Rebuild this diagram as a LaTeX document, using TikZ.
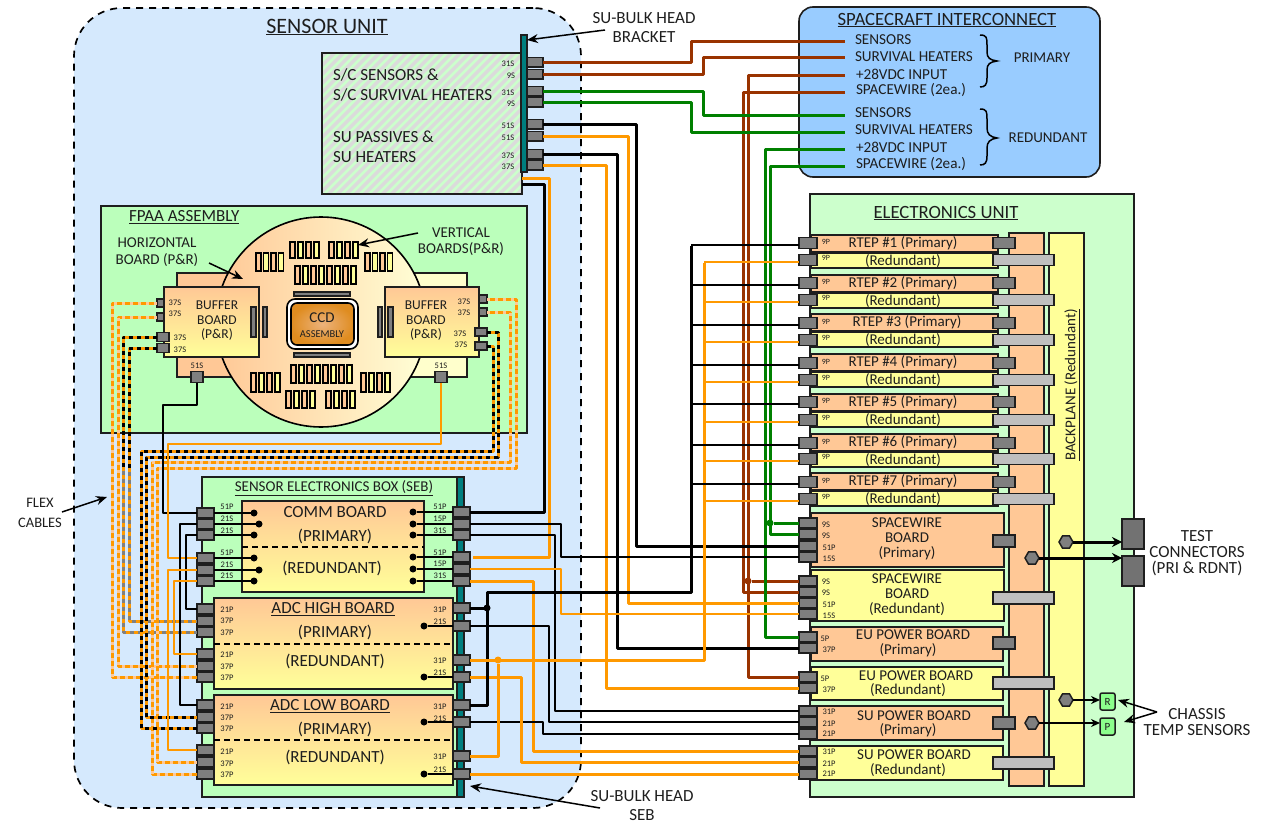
\documentclass[tikz,border=0pt]{standalone}
\usepackage{fontspec}
\setmainfont{Carlito}
\usetikzlibrary{shapes.geometric,arrows.meta,calc}
\definecolor{cOr}{HTML}{FF9900}
\definecolor{cPeach}{HTML}{FFC896}
\definecolor{cYel}{HTML}{FFFF99}
\definecolor{cBrown}{HTML}{993300}
\definecolor{cGreen}{HTML}{008000}
\definecolor{cTeal}{HTML}{007F7F}
\definecolor{cBlue}{HTML}{D5E9FD}
\definecolor{cSky}{HTML}{99CCFF}
\definecolor{cMint}{HTML}{BBFFBB}
\definecolor{cEU}{HTML}{CCFFCC}
\definecolor{cPlug}{HTML}{7F7F7F}
\definecolor{cLite}{HTML}{BFBFBF}
\definecolor{cInk}{HTML}{1E1E1E}
\newcommand{\fs}[1]{\fontsize{#1}{#1}\selectfont}
\tikzset{
  every node/.style={text=cInk,inner sep=0pt,outer sep=0pt,align=center},
  box/.style={draw=cInk,line width=1.6pt,outer sep=0pt},
  plug/.style={draw=cInk,fill=cPlug,line width=1.5pt},
  plugl/.style={draw=cInk,fill=cLite,line width=1.5pt},
  wk/.style={draw=black,line width=3pt,line join=round},
  wkm/.style={draw=black,line width=2.3pt,line join=round},
  wkt/.style={draw=black,line width=1.7pt,line join=round},
  wo/.style={draw=cOr,line width=3pt,line join=round},
  wom/.style={draw=cOr,line width=3pt,line join=round},
  wot/.style={draw=cOr,line width=2pt,line join=round},
  wb/.style={draw=cBrown,line width=3pt,line join=round},
  wg/.style={draw=cGreen,line width=3pt,line join=round},
  flexk/.style={draw=cOr,line width=3pt,line join=round,postaction={draw=black,line width=3pt,dash pattern=on 4pt off 4pt}},
  flexg/.style={draw=cOr,line width=3pt,line join=round,postaction={draw=gray,line width=3pt,dash pattern=on 4pt off 4pt}},
  flexo/.style={draw=cOr,line width=3pt,line join=round,postaction={draw=cPeach,line width=3pt,dash pattern=on 3pt off 5pt}},
  dotk/.style={circle,fill=black,minimum size=7pt},
  dotj/.style={circle,fill=#1,minimum size=7pt},
  lab/.style={font=\fs{8.5}},
  lab9/.style={font=\fs{8}},
  callout/.style={draw=black,line width=1.5pt,-{Stealth[length=11pt,width=9pt]}},
  hexa/.style={regular polygon,regular polygon sides=6,draw=cInk,fill=cPlug,line width=1.5pt,minimum size=14pt},
  vb/.style={draw=black,line width=1.5pt},
}
\newcommand{\bx}[6][]{\node[box,minimum width={((#5)-(#3))*1pt},minimum height={((#6)-(#4))*1pt},#1] (#2) at ({((#3)+(#5))/2},{((#4)+(#6))/2}) {};}
\newcommand{\pl}[6][plug]{\node[#1,minimum width={(#4-#3)*1pt},minimum height={#6*1pt}] (#2) at ({(#3+#4)/2},#5) {};}
\newcommand{\route}[4][]{\draw[#1] (#2) -- (#3,0 |- #2) -- (#3,0 |- #4) -- (#4);}
\newcommand{\dotto}[3]{\node[dotk] (d#1) at (#3,0 |- #1.#2) {}; \draw[wkt] (#1.#2) -- (d#1);}
\newcommand{\vbs}[5]{\foreach \k in {1,...,#4}{\pgfmathsetmacro{\xa}{#1+(\k-1)*#5}\pgfmathtruncatemacro{\od}{mod(\k,2)}\ifnum\od=1\def\cc{cPeach}\else\def\cc{cYel}\fi\draw[vb,fill=\cc] (\xa,#2) rectangle ({\xa+5},#3);}}
\begin{document}
\begin{tikzpicture}[x=1pt,y=-1pt]
\useasboundingbox (0,0) rectangle (1262,827);
% sensor unit
\node[draw=black,fill=cBlue,dash pattern=on 7pt off 6pt,line width=1.7pt,rounded corners=48pt,minimum width=507pt,minimum height=800pt] (su) at (327.5,408) {};
\node[font=\fs{22}] (sutitle) at (327,27) {\underline{SENSOR UNIT}};
% S/C box with stripes
\bx[fill=gray!28]{sc}{322}{53}{522}{194}
\begin{scope}
\clip (322,53) rectangle (522,194);
\foreach \a in {180,189,...,522}{\draw[draw=cEU,line width=2.6pt] (\a,194) -- ({\a+141},53);}
\end{scope}
\draw[draw=cInk,line width=1.6pt] (322,53) rectangle (522,194);
\bx[fill=cTeal]{subar}{521}{35}{527}{172}
\node[font=\fs{17},anchor=west] (sc1) at (333,75) {S/C SENSORS \&};
\node[font=\fs{17},anchor=west] (sc2) at (333,95) {S/C SURVIVAL HEATERS};
\node[font=\fs{17},anchor=west] (sc3) at (333,137) {SU PASSIVES \&};
\node[font=\fs{17},anchor=west] (sc4) at (333,157) {SU HEATERS};
\foreach \n/\y/\t/\xx in {1/62/31S/508,2/74/9S/511,3/91/31S/508,4/102/9S/511,5/124/51S/508,6/136/51S/508,7/154/37S/508,8/165/37S/508}{
  \pl{s\n}{527}{543}{\y}{9.5}
  \node[lab] (sl\n) at (\xx,\y+2) {\t};
}
% FPAA
\bx[fill=cMint]{fpaa}{101}{206}{527}{433}
\node[font=\fs{17},anchor=west] (fpt) at (129,217) {\underline{FPAA ASSEMBLY}};
\bx[fill=cPeach]{bkl}{177}{273}{240}{377}
\bx[fill=cYel!50!white]{bkr}{400}{273}{467}{377}
\node[circle,draw=black,line width=1.6pt,minimum size=210pt,left color=cPeach,right color=cYel!40!white] (fpc) at (321,322) {};
\bx[top color=cPeach,bottom color=cYel]{bbl}{164}{287}{259}{357}
\bx[top color=cPeach,bottom color=cYel]{bbr}{385}{287}{479}{357}
\node[font=\fs{13.5}] (bt1) at (217,321) {BUFFER\\[1pt]BOARD\\[1pt](P\&R)};
\node[font=\fs{13.5}] (bt2) at (426,321) {BUFFER\\[1pt]BOARD\\[1pt](P\&R)};
\foreach \a/\b in {251/256,263/267,378/382,388/393}{\draw[draw=cInk,fill=cPlug,line width=1.2pt] (\a,307) rectangle (\b,337);}
\draw[draw=cInk,fill=cPlug,line width=1.2pt] (294,292) rectangle (350,296);
\draw[draw=cInk,fill=cPlug,line width=1.2pt] (294,353) rectangle (350,357);
\node[draw=black,fill=white,line width=1.6pt,rounded corners=8pt,minimum width=71pt,minimum height=50pt] (ccdo) at (322.5,324) {};
\node[draw=black,line width=1.6pt,rounded corners=6pt,minimum width=63pt,minimum height=42pt,inner color=cPeach!70!brown,outer color=brown!50!cOr] (ccdi) at (322.5,324) {};
\node[font=\fs{15}] (ccd1) at (322,318) {CCD};
\node[font=\fs{10.5}] (ccd2) at (322,334) {ASSEMBLY};
\vbs{290}{242}{258}{4}{8}
\vbs{329}{242}{258}{4}{8}
\vbs{256}{253}{271}{4}{7.5}
\vbs{365}{253}{271}{4}{7.5}
\vbs{295}{266}{284}{8}{8}
\vbs{291}{365}{383}{8}{8}
\vbs{286}{391}{408}{4}{8}
\vbs{326}{391}{408}{4}{8}
\vbs{251}{373}{392}{4}{8}
\vbs{361}{373}{392}{4}{8}
\pl{fl1}{157}{164}{303}{8}
\pl{fl2}{157}{164}{317}{8}
\pl{fl3}{157}{169}{337}{9}
\pl{fl4}{157}{169}{348}{9}
\pl{fl5}{191}{203}{377}{11}
\pl{fr1}{479}{487}{299}{8}
\pl{fr2}{479}{487}{312}{8}
\pl{fr3}{475}{487}{332}{8}
\pl{fr4}{475}{487}{346}{8}
\pl{fr5}{435}{447}{377}{11}
\foreach \n/\x/\y in {1/175/303,2/175/314,3/180/338,4/180/350,6/464/302,7/464/313,8/460/334,9/461/345}{\node[lab] (fa\n) at (\x,\y) {37S};}
\node[lab] (fa5) at (197,366) {51S};
\node[lab] (fa10) at (441,366) {51S};
\node[font=\fs{15}] (hor) at (157,252.5) {HORIZONTAL\\[2pt]BOARD (P\&R)};
\node[font=\fs{15}] (ver) at (461,242) {VERTICAL\\[1pt]BOARDS(P\&R)};
% SEB
\bx[fill=cMint]{seb}{202}{477}{464}{797}
\bx[fill=cTeal]{sebbar}{457}{477}{464}{797}
\node[font=\fs{15}] (sebt) at (334,488) {\underline{SENSOR ELECTRONICS BOX (SEB)}};
\bx[top color=cPeach,bottom color=cYel]{comm}{242}{501}{424}{592}
\bx[top color=cPeach,bottom color=cYel]{adch}{214}{598}{453}{689}
\bx[top color=cPeach,bottom color=cYel]{adcl}{214}{695}{453}{785}
\draw[line width=1.5pt,dash pattern=on 6pt off 4pt] (comm.west |- 0,547) -- (comm.east |- 0,547);
\draw[line width=1.5pt,dash pattern=on 6pt off 4pt] (adch.west |- 0,644) -- (adch.east |- 0,644);
\draw[line width=1.5pt,dash pattern=on 6pt off 4pt] (adcl.west |- 0,740) -- (adcl.east |- 0,740);
\node[font=\fs{17}] (tc1) at (335,512) {COMM BOARD};
\node[font=\fs{17}] (tc2) at (335,536) {(PRIMARY)};
\node[font=\fs{17}] (tc3) at (332,568) {(REDUNDANT)};
\node[font=\fs{17}] (th1) at (333,609) {\underline{ADC HIGH BOARD}};
\node[font=\fs{17}] (th2) at (335,632) {(PRIMARY)};
\node[font=\fs{17}] (th3) at (335,661) {(REDUNDANT)};
\node[font=\fs{17}] (tl1) at (330,706) {\underline{ADC LOW BOARD}};
\node[font=\fs{17}] (tl2) at (335,729) {(PRIMARY)};
\node[font=\fs{17}] (tl3) at (335,757) {(REDUNDANT)};
% SEB left plugs
\foreach \n/\y/\ly/\t/\dx in {1/513/507/51P/254,2/524/519/21S/259,3/535/531/21S/254,4/558/553/51P/254,5/570/565/21S/259,6/581/576/21S/254}{
  \pl{cl\n}{197}{214}{\y}{10}
  \dotto{cl\n}{east}{\dx}
  \node[lab] (cla\n) at (227,\ly) {\t};
}
\foreach \n/\y/\ly/\t in {1/609/610/21P,2/621/621/37P,3/632/633/37P,4/654/655/21P,5/666/667/37P,6/677/678/37P}{
  \pl{hl\n}{197}{214}{\y}{10}
  \node[lab] (hla\n) at (227,\ly) {\t};
}
\foreach \n/\y/\ly/\t in {1/705/707/21P,2/717/718/37P,3/728/729/37P,4/750/752/21P,5/762/764/37P,6/774/775/37P}{
  \pl{ll\n}{197}{214}{\y}{10}
  \node[lab] (lla\n) at (227,\ly) {\t};
}
% SEB right plugs
\foreach \n/\y/\ly/\t in {1/512/507/51P,2/524/519/15P,3/535/531/31S,4/557/553/51P,5/569/564/15P,6/581/576/31S}{
  \pl{cr\n}{453}{470}{\y}{10}
  \dotto{cr\n}{west}{413}
  \node[lab] (cra\n) at (440,\ly) {\t};
}
\foreach \n/\y/\ly/\t in {1/608/610/31P,2/626/622/21S,3/660/661/31P,4/677/673/21S}{
  \pl{hr\n}{453}{470}{\y}{10}
  \node[lab] (hra\n) at (440,\ly) {\t};
}
\foreach \n/\y/\ly/\t in {1/705/707/31P,2/722/719/21S,3/756/757/31P,4/774/770/21S}{
  \pl{lr\n}{453}{470}{\y}{10}
  \node[lab] (lra\n) at (440,\ly) {\t};
}
\foreach \p in {hr2,hr4,lr2,lr4}{\dotto{\p}{west}{424}}
% spacecraft
\node[draw=cInk,fill=cSky,line width=1.6pt,rounded corners=14pt,minimum width=301pt,minimum height=170pt] (sci) at (949.5,92) {};
\node[font=\fs{18.7}] (scit) at (947,20) {\underline{SPACECRAFT INTERCONNECT}};
\foreach \n/\y/\x/\t/\cy in {1/40/855/SENSORS/41,2/57/855/SURVIVAL HEATERS/57,3/74/856/+28VDC INPUT/75,4/90/856/SPACEWIRE (2ea.)/92,5/113/855/SENSORS/115,6/130/855/SURVIVAL HEATERS/132,7/147/856/+28VDC INPUT/149,8/164/856/SPACEWIRE (2ea.)/166}{
  \node[font=\fs{15.2},anchor=west] (til\n) at (\x,\y) {\t};
  \coordinate (t\n) at (845,\cy);
}
\draw[line width=1.5pt] (980,35) .. controls (987,35) and (987,38) .. (987,45) -- (987,52) .. controls (987,58) and (990,60) .. (997,61) .. controls (990,62) and (987,64) .. (987,70) -- (987,78) .. controls (987,85) and (985,87) .. (980,87);
\draw[line width=1.5pt] (980,109) .. controls (987,109) and (987,112) .. (987,119) -- (987,128) .. controls (987,134) and (990,137) .. (997,138) .. controls (990,139) and (987,142) .. (987,148) -- (987,156) .. controls (987,163) and (985,165) .. (980,165);
\node[font=\fs{15}] (prim) at (1042,58) {PRIMARY};
\node[font=\fs{15}] (redu) at (1048,138) {REDUNDANT};
% EU
\bx[fill=cEU]{eu}{810}{194}{1134}{797}
\node[font=\fs{18.7}] (eut) at (946,213) {\underline{ELECTRONICS UNIT}};
\bx[fill=cPeach]{bpo}{1009}{233}{1044}{786}
\bx[fill=cYel]{bpy}{1049}{233}{1084}{786}
\node[font=\fs{15},rotate=90] (bpt) at (1072,385) {\underline{BACKPLANE (Redundant)}};
\foreach \n/\tp/\yp/\yr/\xt in {1/235/243/260/903,2/275/283/300/903,3/314/323/340/907,4/354/363/380/903,5/394/402/420/903,6/434/443/459/903,7/473/482/499/903}{
  \bx[fill=cPeach]{rpb\n}{811}{\tp}{998}{\tp+17}
  \bx[fill=cYel]{rrb\n}{811}{\tp+18}{998}{\tp+33}
  \node[font=\fs{15}] (rpt\n) at (\xt,\tp+8) {RTEP \#\n\ (Primary)};
  \node[font=\fs{15}] (rrt\n) at (903,\tp+26) {(Redundant)};
  \pl{rp\n}{799}{817}{\yp}{11}
  \pl{rr\n}{799}{817}{\yr}{11}
  \pl{rpo\n}{993}{1015}{\yp}{11}
  \pl[plugl]{rro\n}{993}{1054}{\yr}{11}
  \node[lab9] (rpl\n) at (826,\yp-1) {9P};
  \node[lab9] (rrl\n) at (826,\yr-2) {9P};
}
\bx[fill=cPeach]{swpb}{811}{513}{1004}{567}
\bx[fill=cYel]{swrb}{811}{570}{1004}{621}
\bx[fill=cPeach]{eupb}{811}{627}{1003}{661}
\bx[fill=cYel]{eurb}{811}{667}{1003}{700}
\bx[fill=cPeach]{supb}{811}{706}{1003}{740}
\bx[fill=cYel]{surb}{811}{746}{1003}{780}
\node[font=\fs{15}] (swpt) at (907,539) {SPACEWIRE\\[0pt]BOARD\\[0pt](Primary)};
\node[font=\fs{15}] (swrt) at (907,595) {SPACEWIRE\\[0pt]BOARD\\[0pt](Redundant)};
\node[font=\fs{15}] (eupt1) at (913,635) {EU POWER BOARD};
\node[font=\fs{15}] (eupt2) at (908,650) {(Primary)};
\node[font=\fs{15}] (eurt1) at (916,676) {EU POWER BOARD};
\node[font=\fs{15}] (eurt2) at (908,690) {(Redundant)};
\node[font=\fs{15}] (supt1) at (914,716) {SU POWER BOARD};
\node[font=\fs{15}] (supt2) at (908,730) {(Primary)};
\node[font=\fs{15}] (surt1) at (914,755) {SU POWER BOARD};
\node[font=\fs{15}] (surt2) at (908,770) {(Redundant)};
\foreach \nm/\y/\t/\lx/\ly in {swp1/523/9S/826/525,swp2/534/9S/826/536,swp3/546/51P/829/548,swp4/557/15S/829/559,swr1/581/9S/826/582,swr2/592/9S/826/593,swr3/603/51P/829/605,swr4/614/15S/829/616,eup1/637/5P/825/639,eup2/648/37P/829/650,eur1/677/5P/825/679,eur2/688/37P/829/690,sup1/711/31P/829/712,sup2/722/21P/829/724,sup3/734/21P/829/734,sur1/751/31P/829/752,sur2/762/21P/829/764,sur3/774/21P/829/774}{
  \pl{\nm}{799}{817}{\y}{10}
  \node[lab] (\nm lb) at (\lx,\ly) {\t};
}
\foreach \n/\y in {1/541,2/643,3/723}{\pl{pbo\n}{993}{1015}{\y}{12}}
\foreach \n/\y in {1/598,2/683,3/763}{\pl[plugl]{pbl\n}{993}{1054}{\y}{12}}
% test connectors
\bx[fill=cPlug!90!black]{tc1b}{1122}{519}{1144}{549}
\bx[fill=cPlug!90!black]{tc2b}{1122}{556}{1144}{586}
\node[hexa] (hx1) at (1066,542) {};
\node[hexa] (hx2) at (1032,558) {};
\node[hexa] (hx3) at (1066,700) {};
\node[hexa] (hx4) at (1032,723) {};
\node[draw=cInk,fill=green!45!white,line width=1.5pt,rounded corners=2pt,minimum width=15pt,minimum height=17pt,font=\fs{11}] (sr) at (1107.5,701.5) {R};
\node[draw=cInk,fill=green!45!white,line width=1.5pt,rounded corners=2pt,minimum width=15pt,minimum height=17pt,font=\fs{11}] (sp) at (1107.5,726.5) {P};
\draw[draw=black,line width=3pt,-{Stealth[length=10pt,width=10pt]}] (hx1) -- (hx1 -| tc1b.west);
\draw[draw=black,line width=3pt,-{Stealth[length=10pt,width=10pt]}] (hx2) -- (hx2 -| tc2b.west);
\draw[draw=black,line width=1.5pt,-{Stealth[length=9pt,width=8pt]}] (hx3) -- (hx3 -| sr.west);
\draw[draw=black,line width=1.5pt,-{Stealth[length=9pt,width=8pt]}] (hx4) -- (hx4 -| sp.west);
% wires: brown and green
\route[wb]{s1.east}{691}{t1}
\route[wb]{s2.east}{703}{t2}
\route[wb]{t3}{748}{eur1.west}
\route[wb]{t4}{743}{swr2.west}
\node[dotj=cBrown] (jb) at (748,0 |- swr1.west) {};
\draw[wb] (jb) -- (swr1.west);
\route[wg]{s3.east}{703}{t5}
\route[wg]{s4.east}{691}{t6}
\route[wg]{t7}{765}{eup1.west}
\route[wg]{t8}{770}{swp2.west}
\node[dotj=cGreen] (jg) at (770,0 |- swp1.west) {};
\draw[wg] (jg) -- (swp1.west);
% S/C to EU
\route[wk]{s5.east}{636}{swp3.west}
\route[wo]{s6.east}{628}{swr3.west}
\route[wk]{s7.east}{617}{eup2.west}
\route[wo]{s8.east}{606}{eur2.west}
\coordinate (scb1) at (sc.east |- 0,184);
\coordinate (scb2) at (sc.east |- 0,178);
\coordinate (cr4g) at ($(cr4.east)+(3,0)$);
\route[wk]{scb1}{544}{cr1.east}
\route[wo]{scb2}{549}{cr4g}
\route[wkt]{cr2.east}{561}{swp4.west}
\route[wkm]{cr3.east}{555}{sup1.west}
\route[wot]{cr5.east}{561}{swr4.west}
\route[wom]{cr6.east}{533}{sur1.west}
\route[wkm]{hr2.east}{549}{sup2.west}
\route[wkm]{lr2.east}{543}{sup3.west}
\route[wom]{hr4.east}{521}{sur2.west}
\draw[wom] (lr4.east) -- (sur3.west);
% backbone black
\node[dotj=black] (jk) at (487,0 |- hr1.east) {};
\draw[wk] (lr1.east) -- (487,0 |- lr1.east) -- (487,592) -- (691,592) -- (691,246);
\draw[wk] (hr1.east) -- (jk);
% backbone orange
\node[dotj=cOr] (jo) at (498,0 |- hr3.east) {};
\draw[wo] (hr3.east) -- (704,0 |- hr3.east) -- (704,263);
\draw[wom] (jo) -- (jo |- lr3.east) -- (lr3.east);
\foreach \n in {1,...,7}{
  \coordinate (rk\n) at ($(rp\n.west)+(0,2)$);
  \coordinate (ro\n) at ($(rr\n.west)+(0,2)$);
  \draw[wkt] (rk\n) -- (691,0 |- rk\n);
  \draw[wot] (ro\n) -- (704,0 |- ro\n);
}
% flex cables
\route[flexo]{fl1.west}{112}{hl6.west}
\route[flexo]{fl2.west}{118}{hl5.west}
\route[flexg]{fl3.west}{123}{hl3.west}
\route[flexg]{fl4.west}{129}{hl2.west}
\draw[flexk] (fl3.west) -- (123,0 |- fl3.west) -- (123,470);
\draw[flexk] (fl4.west) -- (129,0 |- fl4.west) -- (129,470);
\draw[flexo] (fr1.east) -- (516,0 |- fr1.east) -- (516,468) -- (157,468) -- (157,0 |- ll5.west) -- (ll5.west);
\draw[flexo] (fr2.east) -- (510,0 |- fr2.east) -- (510,462) -- (152,462) -- (152,0 |- ll6.west) -- (ll6.west);
\draw[flexk] (fr3.east) -- (498,0 |- fr3.east) -- (498,457) -- (146,457) -- (146,0 |- ll2.west) -- (ll2.west);
\draw[flexk] (fr4.east) -- (493,0 |- fr4.east) -- (493,451) -- (141,451) -- (141,0 |- ll3.west) -- (ll3.west);
\draw[wkt] (fl5.south) -- (197,405) -- (163,405) -- (163,0 |- cl1.west) -- (cl1.west);
\draw[wot] (fr5.south) -- (441,444) -- (168,444) -- (168,0 |- cl4.west) -- (cl4.west);
\route[wkt]{cl2.west}{180}{ll1.west}
\route[wkt]{cl3.west}{186}{hl1.west}
\route[wot]{cl5.west}{168}{ll4.west}
\route[wot]{cl6.west}{174}{hl4.west}
% callouts
\node[font=\fs{17}] (cb1) at (644,28) {SU-BULK HEAD\\[2pt]BRACKET};
\node[font=\fs{17}] (cb2) at (642,806) {SU-BULK HEAD\\[2pt]SEB};
\node[font=\fs{14.5}] (cb3) at (40,513) {FLEX\\[6pt]CABLES};
\node[font=\fs{17}] (cb4) at (1197,553) {TEST\\[-1pt]CONNECTORS\\[-1pt](PRI \& RDNT)};
\node[font=\fs{17}] (cb5) at (1197,722) {CHASSIS\\[-1pt]TEMP SENSORS};
\coordinate (a1) at (605,30); \coordinate (a1e) at (527,40);
\draw[callout] (a1) -- (a1e);
\coordinate (a2) at (600,808); \coordinate (a2e) at (470,786);
\draw[callout] (a2) -- (a2e);
\coordinate (a3) at (62,512); \coordinate (a3e) at (107,497);
\draw[callout] (a3) -- (a3e);
\coordinate (a4) at (209,263); \coordinate (a4e) at (243,279);
\draw[callout] (a4) -- (a4e);
\coordinate (a5) at (418,233); \coordinate (a5e) at (358,245);
\draw[callout] (a5) -- (a5e);
\coordinate (a6) at (1157,712); \coordinate (a6a) at (1118,700); \coordinate (a6b) at (1124,722);
\draw[callout] (a6) -- (a6a);
\draw[callout] (a6) -- (a6b);
\end{tikzpicture}
\end{document}
